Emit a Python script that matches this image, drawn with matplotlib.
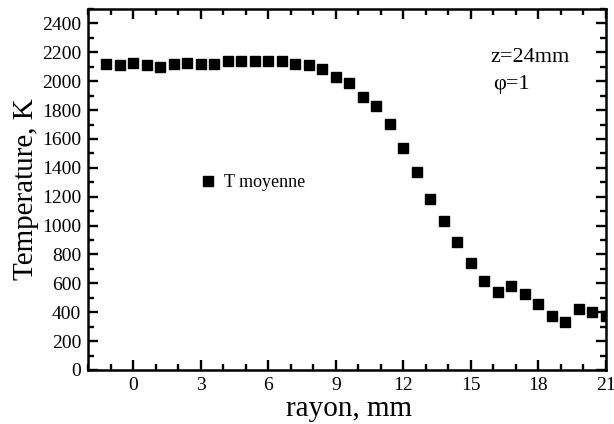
import matplotlib
matplotlib.use("Agg")
import matplotlib.pyplot as plt
from matplotlib.ticker import MultipleLocator

plt.rcParams['font.family'] = ['Liberation Serif', 'DejaVu Serif']

rayon = [-1.2, -0.6, 0.0, 0.6, 1.2, 1.8, 2.4, 3.0, 3.6, 4.2, 4.8, 5.4, 6.0, 6.6,
         7.2, 7.8, 8.4, 9.0, 9.6, 10.2, 10.8, 11.4, 12.0, 12.6, 13.2, 13.8, 14.4,
         15.0, 15.6, 16.2, 16.8, 17.4, 18.0, 18.6, 19.2, 19.8, 20.4, 21.0]
t_moyenne = [2118, 2109, 2125, 2111, 2099, 2116, 2129, 2122, 2118, 2138, 2138,
             2138, 2143, 2140, 2118, 2109, 2083, 2030, 1988, 1891, 1827, 1702,
             1538, 1370, 1187, 1033, 884, 740, 614, 538, 583, 526, 455, 372, 334,
             422, 403, 376]
x_ticks = [0, 3, 6, 9, 12, 15, 18, 21]
y_ticks = list(range(0, 2401, 200))

fig = plt.figure(figsize=(6.14, 4.24), dpi=100)
ax = fig.add_axes([0.1438, 0.1274, 0.8427, 0.8514])

ax.plot(rayon, t_moyenne, linestyle='none', marker='s', markersize=7.5,
        color='black', label='T moyenne')

ax.set_xlim(-2, 21)
ax.set_ylim(0, 2500)
ax.set_xticks(x_ticks)
ax.set_yticks(y_ticks)
ax.xaxis.set_minor_locator(MultipleLocator(1))
ax.yaxis.set_minor_locator(MultipleLocator(100))

ax.tick_params(which='both', direction='in', top=True, right=True, width=1.7)
ax.tick_params(which='major', length=7.5, labelsize=14, pad=5)
ax.tick_params(which='minor', length=4)
for s in ax.spines.values():
    s.set_linewidth(1.8)

ax.set_xlabel('rayon, mm', fontsize=21, va='baseline')
ax.xaxis.set_label_coords(0.503, -0.1274)
ax.set_ylabel('Temperature, K', fontsize=21, labelpad=2)

ax.text(15.89, 2131, 'z=24mm', fontsize=16, va='baseline', ha='left')
ax.text(15.98, 1945, 'φ=1', fontsize=16, va='baseline', ha='left')

ax.legend(loc='center left', bbox_to_anchor=(2.92, 1298),
          bbox_transform=ax.transData, frameon=False, fontsize=13,
          handlelength=1.0, handletextpad=0.4, borderpad=0, borderaxespad=0,
          numpoints=1)

fig.savefig('out.png', dpi=100)
